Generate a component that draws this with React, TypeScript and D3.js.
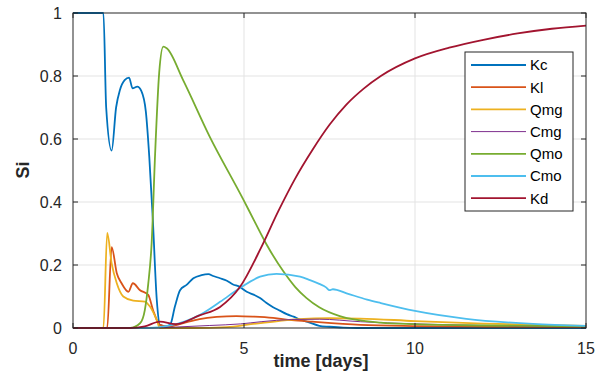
import React from "react";
import * as d3 from "d3";

// time axis ticks
const xTicks = [0, 5, 10, 15];
const yTicks = [0, 0.2, 0.4, 0.6, 0.8, 1];
const yTickLabels = ["0", "0.2", "0.4", "0.6", "0.8", "1"];

// series (t in days, Si value)
const kcT = [0, 0.89, 0.97, 1.13, 1.26, 1.37, 1.51, 1.64, 1.74, 1.88, 2.0, 2.13, 2.23, 2.33, 2.45, 2.54, 2.7, 2.84, 2.98, 3.13, 3.32, 3.52, 3.76, 3.96, 4.1, 4.3, 4.5, 4.68, 4.85, 5.08, 5.3, 5.47, 5.65, 5.85, 6.05, 6.25, 6.45, 6.64, 6.9, 7.2, 7.5, 7.9, 8.3, 15];
const kcV = [1, 1, 0.7, 0.563, 0.7, 0.755, 0.787, 0.795, 0.761, 0.766, 0.752, 0.687, 0.544, 0.353, 0.089, 0.01, 0.005, 0.01, 0.068, 0.12, 0.137, 0.158, 0.168, 0.171, 0.165, 0.158, 0.15, 0.138, 0.132, 0.115, 0.105, 0.095, 0.08, 0.066, 0.055, 0.044, 0.036, 0.027, 0.018, 0.007, 0.004, 0.001, 0, 0];

const klT = [0, 1.0, 1.13, 1.28, 1.42, 1.62, 1.75, 1.96, 2.2, 2.34, 2.54, 2.8, 3.2, 3.7, 4.2, 4.78, 5.3, 5.85, 6.4, 7, 8.4, 10, 12, 15];
const klV = [0, 0, 0.257, 0.174, 0.142, 0.115, 0.142, 0.12, 0.105, 0.057, 0.01, 0.005, 0.015, 0.028, 0.035, 0.038, 0.036, 0.032, 0.025, 0.02, 0.01, 0.006, 0.004, 0.003];

const qmgT = [0, 0.89, 1.0, 1.13, 1.28, 1.47, 1.76, 2.1, 2.25, 2.45, 2.54, 3.5, 4.5, 5.2, 6, 6.6, 7.5, 8.4, 10, 12, 15];
const qmgV = [0, 0, 0.302, 0.205, 0.142, 0.1, 0.087, 0.084, 0.068, 0.025, 0, 0, 0.003, 0.012, 0.022, 0.028, 0.031, 0.03, 0.022, 0.014, 0.007];

const cmgT = [0, 2.3, 3, 4, 4.9, 5.5, 6.4, 7.2, 8.4, 10, 12, 15];
const cmgV = [0, 0, 0.003, 0.008, 0.013, 0.02, 0.027, 0.028, 0.02, 0.013, 0.008, 0.005];

const qmoT = [0, 1.67, 1.96, 2.1, 2.2, 2.3, 2.4, 2.52, 2.64, 2.74, 3.22, 4.0, 4.97, 5.3, 5.66, 6.15, 6.5, 6.83, 7.2, 7.8, 9, 10, 12, 15];
const qmoV = [0, 0, 0.015, 0.057, 0.14, 0.27, 0.55, 0.81, 0.893, 0.888, 0.787, 0.607, 0.41, 0.34, 0.265, 0.18, 0.13, 0.095, 0.066, 0.038, 0.017, 0.012, 0.008, 0.005];

const cmoT = [0, 2.2, 2.84, 3.3, 3.7, 4.3, 4.88, 5.47, 5.95, 6.64, 6.93, 7.2, 7.4, 7.5, 7.6, 8.0, 8.6, 9.0, 10, 11.5, 13.45, 15];
const cmoV = [0, 0, 0.008, 0.022, 0.041, 0.083, 0.127, 0.163, 0.172, 0.163, 0.152, 0.14, 0.129, 0.12, 0.123, 0.11, 0.09, 0.079, 0.054, 0.029, 0.013, 0.007];

const kdT = [0, 1.67, 2.1, 2.54, 3.0, 3.7, 4.3, 4.88, 5.5, 6.0, 6.5, 7.0, 7.5, 8.0, 8.5, 9.0, 10, 11, 12, 13, 14, 15];
const kdV = [0, 0, 0.005, 0.02, 0.012, 0.04, 0.067, 0.13, 0.255, 0.37, 0.475, 0.565, 0.645, 0.71, 0.76, 0.8, 0.856, 0.89, 0.915, 0.935, 0.95, 0.96];

const seriesNames = ["Kc", "Kl", "Qmg", "Cmg", "Qmo", "Cmo", "Kd"];
const seriesColors = ["#0072BD", "#D95319", "#EDB120", "#7E2F8E", "#77AC30", "#4DBEEE", "#A2142F"];
const seriesT = [kcT, klT, qmgT, cmgT, qmoT, cmoT, kdT];
const seriesV = [kcV, klV, qmgV, cmgV, qmoV, cmoV, kdV];

const W = 603;
const H = 374;
const m = { left: 73, right: 586, top: 13, bottom: 328 };
const axisColor = "#262626";
const font = "'Liberation Sans', Arial, Helvetica, sans-serif";

export default function App() {
  const x = d3.scaleLinear().domain([0, 15]).range([m.left, m.right]);
  const y = d3.scaleLinear().domain([0, 1]).range([m.bottom, m.top]);

  const line = d3
    .line<[number, number]>()
    .x((d) => x(d[0]))
    .y((d) => y(d[1]))
    .curve(d3.curveMonotoneX);

  const tickLen = 5;

  return (
    <svg
      width={W}
      height={H}
      style={{ position: "absolute", left: 0, top: 0, background: "#fff", fontFamily: font }}
    >
      <rect x={0} y={0} width={W} height={H} fill="#fff" />
      {/* grid */}
      {xTicks.slice(1, -1).map((t) => (
        <line key={"gx" + t} x1={x(t)} x2={x(t)} y1={m.top} y2={m.bottom} stroke="#e3e3e3" strokeWidth={1} />
      ))}
      {yTicks.slice(1, -1).map((t) => (
        <line key={"gy" + t} x1={m.left} x2={m.right} y1={y(t)} y2={y(t)} stroke="#e3e3e3" strokeWidth={1} />
      ))}

      {/* data lines */}
      <g clipPath="url(#plotclip)">
        {seriesNames.map((name, i) => (
          <path
            key={name}
            d={line(seriesT[i].map((t, j) => [t, seriesV[i][j]] as [number, number])) || ""}
            fill="none"
            stroke={seriesColors[i]}
            strokeWidth={name === "Cmg" ? 1 : 1.8}
            strokeLinejoin="round"
          />
        ))}
      </g>
      <defs>
        <clipPath id="plotclip">
          <rect x={m.left} y={m.top - 2} width={m.right - m.left} height={m.bottom - m.top + 4} />
        </clipPath>
      </defs>

      {/* axes box */}
      <rect
        x={m.left}
        y={m.top}
        width={m.right - m.left}
        height={m.bottom - m.top}
        fill="none"
        stroke={axisColor}
        strokeWidth={1}
      />
      {xTicks.map((t) => (
        <g key={"xt" + t}>
          <line x1={x(t)} x2={x(t)} y1={m.bottom} y2={m.bottom - tickLen} stroke={axisColor} />
          <line x1={x(t)} x2={x(t)} y1={m.top} y2={m.top + tickLen} stroke={axisColor} />
          <text x={x(t)} y={354} textAnchor="middle" fontSize={16} fill={axisColor}>
            {t}
          </text>
        </g>
      ))}
      {yTicks.map((t, i) => (
        <g key={"yt" + t}>
          <line x1={m.left} x2={m.left + tickLen} y1={y(t)} y2={y(t)} stroke={axisColor} />
          <line x1={m.right} x2={m.right - tickLen} y1={y(t)} y2={y(t)} stroke={axisColor} />
          <text x={62} y={y(t)} dy="0.35em" textAnchor="end" fontSize={16} fill={axisColor}>
            {yTickLabels[i]}
          </text>
        </g>
      ))}

      {/* axis labels */}
      <text x={321} y={367} textAnchor="middle" fontSize={18} fontWeight="bold" fill={axisColor}>
        time [days]
      </text>
      <text
        transform="translate(29,170) rotate(-90)"
        textAnchor="middle"
        fontSize={18}
        fontWeight="bold"
        fill={axisColor}
      >
        Si
      </text>

      {/* legend */}
      <g>
        <rect x={465} y={52} width={108} height={159} fill="#fff" stroke={axisColor} strokeWidth={1} />
        {seriesNames.map((name, i) => {
          const ly = 65 + i * 22.2;
          return (
            <g key={"lg" + name}>
              <line
                x1={471}
                x2={526}
                y1={ly}
                y2={ly}
                stroke={seriesColors[i]}
                strokeWidth={name === "Cmg" ? 1 : 1.8}
              />
              <text x={530} y={ly} dy="0.36em" fontSize={15} fill="#000">
                {name}
              </text>
            </g>
          );
        })}
      </g>
    </svg>
  );
}
